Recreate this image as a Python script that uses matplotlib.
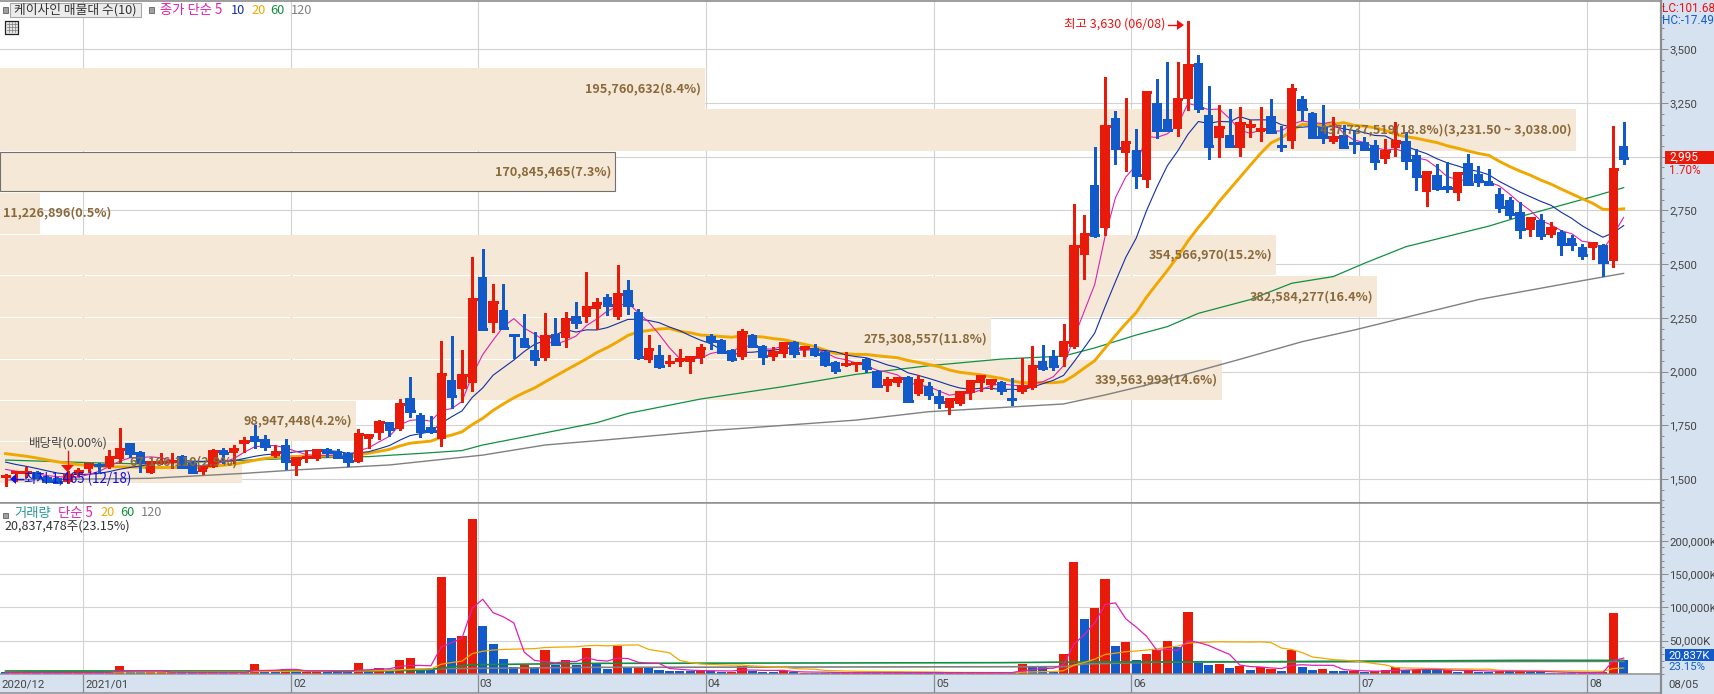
import numpy as np
import pandas as pd
import matplotlib
matplotlib.use("Agg")
import matplotlib.pyplot as plt
from matplotlib import font_manager
from matplotlib.patches import Rectangle, Polygon
from matplotlib.lines import Line2D
from matplotlib.ticker import MultipleLocator, FuncFormatter

plt.rcParams['font.family'] = ['Noto Sans CJK KR', 'DejaVu Sans']
installed = {f.name for f in font_manager.fontManager.ttflist}
NARROW = 'Liberation Sans Narrow' if 'Liberation Sans Narrow' in installed else 'Roboto'
NSIZE = 10 if NARROW == 'Liberation Sans Narrow' else 8.2

# ---------- data ----------
month_labels = ["2020/12", "2021/01", "02", "03", "04", "05", "06", "07", "08"]
month_days = [8, 20, 18, 22, 22, 19, 22, 22, 4]

opens = [1508,1523,1523,1534,1511,1503,1487,1521,1545,1566,
 1557,1593,1667,1625,1529,1573,1578,1607,1576,1531,
 1557,1635,1622,1664,1700,1684,1607,1658,1560,1591,
 1591,1638,1630,1621,1580,1686,1714,1763,1732,1877,
 1798,1742,1687,1961,1919,1947,2440,2226,2286,2170,
 2156,2100,2063,2175,2156,2258,2254,2291,2347,2254,
 2380,2277,2054,2077,2035,2044,2044,2063,2165,2147,
 2100,2068,2170,2119,2068,2082,2138,2099,2110,2091,
 2044,2026,2036,2058,2002,1933,1947,1975,1895,1933,
 1886,1830,1849,1900,1947,1937,1951,1877,1905,1923,
 2049,2072,2068,2114,2543,2868,2668,3180,3017,3031,
 2892,3250,3176,3129,3269,3436,3194,3087,3101,3041,
 3134,3115,3190,3053,3073,3269,3203,3140,3068,3101,
 3070,3068,3054,2989,3041,3073,3008,2836,2915,2864,
 2831,2971,2920,2887,2826,2798,2743,2659,2705,2636,
 2649,2622,2580,2575,2589,2515,3050]
closes = [1512,1531,1534,1511,1490,1487,1518,1537,1570,1563,
 1602,1639,1619,1577,1577,1580,1582,1557,1531,1554,
 1628,1622,1639,1677,1681,1655,1625,1585,1597,1602,
 1633,1625,1604,1583,1709,1704,1763,1732,1849,1816,
 1723,1723,1988,1886,1984,2338,2198,2324,2203,2168,
 2119,2058,2165,2128,2245,2231,2300,2319,2310,2361,
 2310,2068,2105,2026,2044,2058,2068,2110,2142,2091,
 2058,2184,2119,2072,2091,2133,2086,2114,2082,2035,
 2007,2035,2040,2016,1933,1961,1970,1863,1961,1895,
 1858,1872,1905,1956,1979,1961,1914,1874,1933,2026,
 2016,2026,2137,2584,2640,2636,3143,3041,3069,2915,
 3301,3124,3124,3269,3427,3227,3050,3138,3050,3157,
 3148,3129,3115,3050,3315,3222,3092,3093,3092,3045,
 3066,3036,2980,3027,3073,2985,2910,2929,2854,2854,
 2924,2873,2887,2873,2766,2733,2663,2715,2636,2668,
 2594,2594,2542,2598,2510,2943,2995]
highs = [1525,1533,1557,1537,1515,1510,1538,1549,1572,1573,
 1635,1736,1668,1630,1580,1622,1622,1610,1580,1565,
 1638,1642,1658,1695,1751,1704,1658,1686,1600,1635,
 1636,1642,1638,1625,1732,1707,1774,1766,1872,1974,
 1805,1793,2142,2165,2100,2533,2570,2407,2407,2172,
 2268,2184,2272,2249,2277,2324,2463,2342,2361,2496,
 2426,2290,2170,2124,2077,2105,2070,2128,2175,2150,
 2105,2198,2175,2122,2113,2135,2142,2118,2128,2094,
 2047,2091,2042,2061,2005,1975,1973,1978,1984,1951,
 1914,1875,1908,1959,1982,1964,1954,1970,2063,2119,
 2124,2100,2221,2780,2729,3045,3371,3213,3273,3129,
 3304,3362,3441,3441,3630,3474,3329,3241,3222,3231,
 3171,3231,3269,3143,3339,3283,3208,3241,3185,3148,
 3124,3092,3078,3082,3162,3115,3036,2932,2966,2975,
 2927,3013,2957,2943,2854,2812,2789,2719,2733,2696,
 2659,2636,2594,2603,2594,3143,3162]
lows = [1465,1490,1511,1505,1485,1480,1480,1514,1534,1526,
 1549,1580,1604,1534,1526,1570,1549,1552,1526,1523,
 1554,1573,1573,1627,1642,1635,1604,1546,1518,1580,
 1589,1601,1600,1562,1578,1642,1686,1700,1728,1790,
 1694,1712,1655,1829,1860,1911,2193,2186,2198,2061,
 2116,2030,2054,2125,2116,2203,2231,2196,2263,2245,
 2268,2058,2044,2016,2026,2026,1995,2041,2105,2088,
 2049,2058,2114,2037,2054,2068,2068,2072,2072,2027,
 1993,2024,2002,1996,1928,1909,1933,1861,1891,1872,
 1830,1804,1844,1872,1909,1919,1895,1844,1900,1921,
 2007,2007,2026,2108,2431,2628,2636,2966,2933,2854,
 2861,3087,3120,3096,3217,3208,2989,2999,3046,3003,
 3092,3073,3112,3027,3041,3171,3090,3062,3064,3040,
 3017,3030,2943,2971,3003,2943,2845,2771,2845,2836,
 2798,2868,2864,2868,2743,2715,2622,2631,2617,2626,
 2542,2566,2524,2524,2445,2487,2966]
prior_closes = [1650,1660,1670,1670,1665,1660,1655,1650,1650,1645,
 1640,1620,1610,1600,1590,1570,1560,1550,1530]

ma60_days = [0,8,13,18,28,35,40,44,46,51,57,60,67,75,82,89,96,102,105,109,112,115,120,124,128,131,135,143,146,153,156]
ma60_vals = [1588,1576,1570,1578,1596,1604,1619,1632,1658,1705,1762,1805,1872,1930,1987,2027,2058,2072,2110,2170,2209,2271,2335,2411,2442,2504,2581,2677,2721,2814,2856]
ma120_days = [0,14,23,28,37,46,52,57,68,82,89,102,106,110,119,125,130,142,152,156]
ma120_vals = [1495,1503,1526,1542,1565,1611,1658,1678,1725,1774,1813,1849,1891,1937,2057,2139,2193,2335,2423,2457]

band_tops    = [3413, 3222, 3022, 2832, 2636, 2445, 2250, 2055, 1864, 1673]
band_bottoms = [3222, 3027, 2841, 2641, 2450, 2255, 2059, 1868, 1678, 1482]
band_values  = [195760632, 437737519, 170845465, 11226896, 354566970,
                382584277, 275308557, 339563993, 98947448, 67166110]
band_pcts    = ["8.4", "18.8", "7.3", "0.5", "15.2", "16.4", "11.8", "14.6", "4.2", "2.9"]

volumes = [2500,2000,2000,2000,2000,2000,2500,2000,2000,2500,
 2500,12000,3500,3500,2500,2500,2500,2500,2500,2500,
 2500,2500,2500,2500,15000,4500,4000,7500,4000,4000,
 4000,3000,3000,3000,16500,6000,9000,4500,21000,24000,
 6000,6000,145500,54000,57000,232500,72000,45000,22500,11000,
 13500,9500,36000,13500,21000,13500,39000,16000,7500,42500,
 11000,11000,9000,6000,4500,4500,5000,5500,5000,3500,
 3500,12500,5000,3000,3000,4000,3500,2000,2000,2000,
 2000,2000,2000,2000,2000,2000,2000,2000,2000,2000,
 2000,2000,2000,2000,2000,2000,2000,2500,15000,11000,
 11000,3500,30000,168000,82500,99000,142500,42000,48000,21000,
 30000,36000,49500,41000,93000,17000,13500,15000,9000,12500,
 6000,10000,8000,4500,36500,10500,6000,7500,4500,4500,
 4500,3000,4500,6000,10000,6000,6000,6000,6000,6000,
 3500,6000,3500,3500,4500,4500,4500,3000,3000,2000,
 2000,2000,2000,2000,3000,91500,20837]
volume_dirs = ("BRRBBBRRRB" "RRBBRRRBBR" "RBRRRBBRBR" "RBBBRBRBRR" "BBRBRRBBBB"
               "RBRBRBRBBR" "BRBBBBBRBB" "RRBBBRBRBB" "BRRBBRRBRB" "BRRRRRBBRB"
               "BBRRBRRBRB" "RRRBRBBRBR" "BRRBRBBRBB" "RBRRRBRBBR" "BRBBRBRBBB"
               "RBRBRRB")
vol_ma60_days = [0,33,40,45,57,96,103,121,146,156]
vol_ma60_vals = [4500,4500,5500,14000,16000,17000,18000,18500,20500,20500]
vol_ma120_days = [0,35,42,57,102,104,112,156]
vol_ma120_vals = [4000,4500,8000,10000,11000,15000,18000,19000]

# ---------- colours ----------
RED, BLUE = '#e81a0a', '#1259c9'
MAG, NAVY, ORG, GRN, GRY = '#e020b0', '#1030a8', '#f0a800', '#109040', '#808080'
GRID, STRIP, EDGE = '#d2d2d2', '#d6e2f0', '#8c8c8c'
BAND, BANDTXT, TXT = '#f5e8d6', '#8a6a3c', '#444444'

W, H = 1715, 694
fig = plt.figure(figsize=(W / 100, H / 100), dpi=100, facecolor='white')

def make_axes(x0, y0, x1, y1, **kw):
    return fig.add_axes([x0 / W, 1 - y1 / H, (x1 - x0) / W, (y1 - y0) / H], **kw)

def ftext(x, y, s, color=TXT, size=9.3, **kw):
    kw.setdefault('va', 'center')
    return fig.text(x / W, 1 - y / H, s, color=color, fontsize=size, zorder=20, **kw)

def fpoly(pts, color):
    fig.add_artist(Polygon([(x / W, 1 - y / H) for x, y in pts], closed=True,
                           transform=fig.transFigure, fc=color, ec='none', zorder=19))

def fline(x0, y0, x1, y1, color, lw=0.9):
    fig.add_artist(Line2D([x0 / W, x1 / W], [1 - y0 / H, 1 - y1 / H], color=color, lw=lw,
                          transform=fig.transFigure, zorder=19))

strip = make_axes(1661, 0, W, H, zorder=-1, facecolor=STRIP)
strip.set_xticks([]); strip.set_yticks([])
for s in strip.spines.values():
    s.set_visible(False)

ax = make_axes(0, 1, 1661, 503)
axv = make_axes(0, 503, 1661, 674)
axd = make_axes(0, 675, 1661, 693, facecolor=STRIP)

n = len(closes)
days = np.arange(n)
xlim = (-0.54, 159.6)
px_per_day = 10.372
boundaries = np.cumsum(month_days)[:-1] - 0.5

for a in (ax, axv, axd):
    a.set_xlim(*xlim)
    a.set_xticks(boundaries)
    a.tick_params(axis='x', length=0, labelbottom=False)
    for side, sp in a.spines.items():
        sp.set_color(EDGE)
        sp.set_linewidth(1.1)
    a.spines['left'].set_visible(False)

ax.set_ylim(1388, 3725)
axv.set_ylim(0, 256750)
axd.set_ylim(0, 1)
axd.set_yticks([])
axd.spines['top'].set_visible(False)

for a, major, minor, fmt in ((ax, 250, 50, lambda v, _: f"{int(v):,}"),
                             (axv, 50000, 10000, lambda v, _: f"{int(v):,}K" if v > 0 else "")):
    a.yaxis.tick_right()
    a.yaxis.set_major_locator(MultipleLocator(major))
    a.yaxis.set_minor_locator(MultipleLocator(minor))
    a.yaxis.set_major_formatter(FuncFormatter(fmt))
    a.tick_params(axis='y', which='major', length=5, width=0.72, color=EDGE,
                  labelcolor=TXT, labelsize=NSIZE, pad=0.8, labelfontfamily=NARROW)
    a.tick_params(axis='y', which='minor', length=2.2, width=0.72, color=EDGE)
    a.set_axisbelow(True)
    a.grid(True, axis='both', which='major', color=GRID, lw=0.8)
ax.set_yticks([t for t in range(1500, 3501, 250)])
axv.set_yticks([50000, 100000, 150000, 200000])
ax.spines['top'].set_linewidth(1.2)

# volume-by-price bands
band_scale = 3.6 / 1e6 / px_per_day
for k, (top, bot, val, pct) in enumerate(zip(band_tops, band_bottoms, band_values, band_pcts)):
    boxed = k == 2
    ax.barh((top + bot) / 2, val * band_scale, height=top - bot, left=xlim[0], color=BAND,
            edgecolor='#707070' if boxed else 'none', lw=0.8 if boxed else 0, zorder=1)
    label = f"{val:,}({pct}%)"
    if k == 1:
        label += "(3,231.50 ~ 3,038.00)"
    if k == 3:
        ax.annotate(label, (xlim[0], (top + bot) / 2), xytext=(2, 0), textcoords='offset points',
                    ha='left', va='center', color=BANDTXT, fontsize=9.1, fontweight='bold', zorder=6)
    else:
        ax.annotate(label, (xlim[0] + val * band_scale, (top + bot) / 2), xytext=(-3, 0),
                    textcoords='offset points', ha='right', va='center', color=BANDTXT,
                    fontsize=9.1, fontweight='bold', zorder=6)

# moving averages
full = pd.Series(prior_closes + closes, dtype=float)
offset = len(prior_closes)
ma5 = full.rolling(5).mean().to_numpy()[offset:]
ma10 = full.rolling(10).mean().to_numpy()[offset:]
ma20 = full.rolling(20).mean().to_numpy()[offset:]
ax.plot(ma120_days, ma120_vals, color=GRY, lw=1.0, zorder=2)
ax.plot(ma60_days, ma60_vals, color=GRN, lw=0.9, zorder=2)
ax.plot(days, ma20, color=ORG, lw=2.1, zorder=2)
ax.plot(days, ma10, color=NAVY, lw=0.8, zorder=2)
ax.plot(days, ma5, color=MAG, lw=0.8, zorder=2)

# candles
o, c, h, l = map(np.array, (opens, closes, highs, lows))
up = c >= o
cols = np.where(up, RED, BLUE)
body_w = 0.9
ax.vlines(days, l, h, colors=cols, lw=0.75, zorder=3, antialiased=False)
ax.bar(days, np.abs(c - o), bottom=np.minimum(o, c), width=body_w, color=cols, lw=0, zorder=4)
ax.hlines(c, days - body_w / 2, days + body_w / 2, colors=cols, lw=0.75, zorder=4, antialiased=False)

# volume
vol = np.array(volumes, dtype=float)
vcols = [RED if d == 'R' else BLUE for d in volume_dirs]
axv.bar(days, vol, width=0.88, color=vcols, lw=0, zorder=2)
vs = pd.Series(vol)
axv.plot(vol_ma120_days, vol_ma120_vals, color=GRY, lw=1.2, zorder=3)
axv.plot(vol_ma60_days, vol_ma60_vals, color=GRN, lw=1.2, zorder=3)
axv.plot(days, vs.rolling(20, min_periods=1).mean(), color=ORG, lw=0.9, zorder=3)
axv.plot(days, vs.rolling(5, min_periods=1).mean(), color=MAG, lw=0.9, zorder=3)

# date strip
axd.grid(True, axis='x', color=EDGE, lw=0.9)
axd.annotate(month_labels[0], (xlim[0], 0.5), xytext=(1, 0), textcoords='offset points',
             va='center', color=TXT, fontsize=NSIZE, family=NARROW)
for b, lab in zip(boundaries, month_labels[1:]):
    axd.annotate(lab, (b, 0.5), xytext=(1.5, 0), textcoords='offset points',
                 va='center', color=TXT, fontsize=NSIZE, family=NARROW)
for a in (ax, axv, axd):
    a.spines['right'].set_linewidth(1.6)
ftext(1668, 684, "08/05", size=NSIZE, family=NARROW)

# top legend
for sx, sy in ((5, 10), (151, 10), (5, 515)):
    fig.add_artist(Rectangle(((sx - 2) / W, 1 - (sy + 2.5) / H), 4.5 / W, 5 / H, transform=fig.transFigure,
                             fc='#a0a0a0', ec='#606060', lw=0.6, zorder=18))
fig.add_artist(Rectangle((10.5 / W, 1 - 17 / H), 131 / W, 14.5 / H, transform=fig.transFigure,
                         fc='#ececec', ec='#a8a8a8', lw=0.8, zorder=18))
ftext(14, 10, "케이사인 매물대 수(10)", color='#333333', size=9.2)
ftext(160, 10, "종가 단순 5", color=MAG, size=9.6)
ftext(231, 10, "10", color=NAVY, size=9.2)
ftext(251, 10, "20", color=ORG, size=9.2)
ftext(270, 10, "60", color=GRN, size=9.2)
ftext(291, 10, "120", color=GRY, size=9.2)

# table icon
fig.add_artist(Rectangle((5.5 / W, 1 - 33.5 / H), 13 / W, 13 / H, transform=fig.transFigure,
                         fc='#e8e8e8', ec='#222222', lw=0.9, zorder=18))
for gx in (9, 12, 15):
    fline(gx, 22, gx, 32, '#777777', 0.5)
for gy in (24, 27, 30):
    fline(7, gy, 17, gy, '#777777', 0.5)

# annotations on the price panel
ftext(1064, 24, "최고 3,630 (06/08)", color='#f01010', size=9)
fline(1168, 25, 1178, 25, '#f01010', 1.0)
fpoly([(1177, 20), (1184, 25), (1177, 30)], '#f01010')
ftext(29, 443, "배당락(0.00%)", color='#444444', size=9)
fline(67.5, 451, 67.5, 465, '#f01010', 1.0)
fpoly([(61, 465), (74, 465), (67.5, 472)], '#f01010')
ftext(24.5, 479, "최저 1,465 (12/18)", color='#1010e0', size=9.6)
fpoly([(10, 479), (16, 474), (16, 484)], '#1010e0')
fline(15, 479, 23, 479, '#1010e0', 1.0)

# right-hand labels
ftext(1662, 8, "LC:101.68", color='#f01010', size=NSIZE + 0.3, family=NARROW)
ftext(1662, 20, "HC:-17.49", color='#1060d0', size=NSIZE + 0.3, family=NARROW)
fig.add_artist(Rectangle((1665 / W, 1 - 164 / H), 50 / W, 13 / H, transform=fig.transFigure,
                         fc=RED, ec='none', zorder=18))
ftext(1669, 157, "2,995", color='white', size=NSIZE + 0.3, family=NARROW)
ftext(1669, 170, "1.70%", color='#f01010', size=NSIZE + 0.3, family=NARROW)
fig.add_artist(Rectangle((1665 / W, 1 - 661 / H), 50 / W, 12.5 / H, transform=fig.transFigure,
                         fc=BLUE, ec='none', zorder=18))
ftext(1668, 655, "20,837K", color='white', size=NSIZE, family=NARROW)
ftext(1668, 667, "23.15%", color='#1060d0', size=NSIZE, family=NARROW)

# volume legend
ftext(14, 513, "거래량", color='#2a9a96', size=9.6)
ftext(58, 513, "단순 5", color=MAG, size=9.6)
ftext(100, 513, "20", color=ORG, size=9.2)
ftext(120, 513, "60", color=GRN, size=9.2)
ftext(141, 513, "120", color=GRY, size=9.2)
ftext(4, 526, "20,837,478주(23.15%)", color='#333333', size=9)

fig.savefig("out.png", dpi=100, facecolor='white')
